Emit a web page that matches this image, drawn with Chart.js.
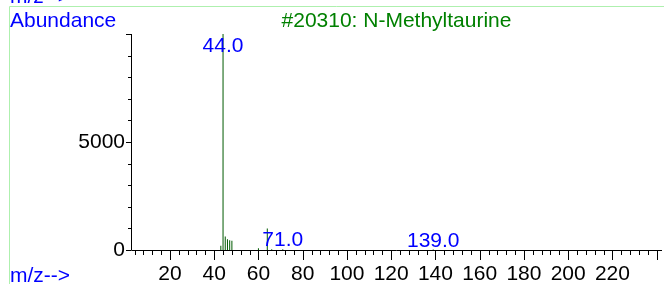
<!DOCTYPE html>
<html>
<head>
<meta charset="utf-8">
<script src="https://cdn.jsdelivr.net/npm/chart.js@4.4.1/dist/chart.umd.min.js"></script>
<style>
    body { margin: 0; background: #fff; }
    #wrap { width: 664px; height: 284px; }
</style>
</head>
<body>
<div id="wrap"><canvas id="spectrum" width="664" height="284"></canvas></div>
<script>
// m/z values and abundances
const mzValues = [43, 44, 45, 46, 47, 48, 60, 64, 66, 71, 139];
const abundances = [200, 10000, 630, 500, 450, 430, 80, 1000, 40, 30, 20];

// peaks that carry a text label
const labelledPeaks = [44, 71, 139];

const xLabelTicks = [20, 40, 60, 80, 100, 120, 140, 160, 180, 200, 220];
const yLabelTicks = [0, 5000];

const titleText = '#20310: N-Methyltaurine';
const yTitle = 'Abundance';
const xTitle = 'm/z-->';

const FONT = '"Liberation Sans", Arial, sans-serif';

const decorations = {
    id: 'decorations',
    afterDraw(chart) {
        const ctx = chart.ctx;
        const area = chart.chartArea;
        const xs = chart.scales.x;
        const ys = chart.scales.y;

        ctx.save();
        // light green frame
        ctx.strokeStyle = '#aef0ae';
        ctx.lineWidth = 1;
        ctx.beginPath();
        ctx.moveTo(9.5, 284);
        ctx.lineTo(9.5, 6.5);
        ctx.lineTo(664, 6.5);
        ctx.stroke();

        // axes
        ctx.strokeStyle = '#000';
        ctx.beginPath();
        ctx.moveTo(Math.round(area.left) + 0.5, area.top);
        ctx.lineTo(Math.round(area.left) + 0.5, Math.round(area.bottom) + 0.5);
        ctx.lineTo(area.right, Math.round(area.bottom) + 0.5);
        ctx.stroke();

        // x ticks, minor every 4, major every 20
        ctx.beginPath();
        for (let v = 4; v <= 240; v += 4) {
            const px = Math.round(xs.getPixelForValue(v)) + 0.5;
            const len = v % 20 === 0 ? 10 : 5;
            ctx.moveTo(px, area.bottom);
            ctx.lineTo(px, area.bottom + len);
        }
        // y ticks, minor every 1000
        for (let v = 0; v <= 10000; v += 1000) {
            const py = Math.round(ys.getPixelForValue(v)) + 0.5;
            const len = v % 5000 === 0 ? 5 : 3;
            ctx.moveTo(area.left, py);
            ctx.lineTo(area.left - len, py);
        }
        ctx.stroke();

        // texts
        ctx.font = '21px ' + FONT;
        ctx.textBaseline = 'alphabetic';
        ctx.fillStyle = '#0000ff';
        ctx.textAlign = 'left';
        ctx.fillText(xTitle, 10, 3);
        ctx.fillText(yTitle, 10, 27);
        ctx.fillText(xTitle, 10, 282);

        ctx.fillStyle = '#008000';
        ctx.textAlign = 'center';
        ctx.fillText(titleText, (area.left + area.right) / 2, 27);

        // peak labels
        ctx.fillStyle = '#0000ff';
        labelledPeaks.forEach(mz => {
            const i = mzValues.indexOf(mz);
            const px = xs.getPixelForValue(mz);
            let py = ys.getPixelForValue(abundances[i]) - 3;
            py = Math.max(py, area.top + 18);
            ctx.fillText(mz.toFixed(1), px, py);
        });
        ctx.restore();
    }
};

new Chart(document.getElementById('spectrum'), {
    type: 'bar',
    data: {
        datasets: [{
            data: mzValues.map((m, i) => ({ x: m, y: abundances[i] })),
            backgroundColor: '#005a00',
            borderWidth: 0,
            barThickness: 1,
            inflateAmount: 0
        }]
    },
    options: {
        responsive: false,
        animation: false,
        layout: { padding: { top: 34, right: 2, left: 0, bottom: 0 } },
        plugins: {
            legend: { display: false },
            tooltip: { enabled: false }
        },
        scales: {
            x: {
                type: 'linear',
                offset: false,
                min: 2.4,
                max: 242.4,
                grid: { display: false, drawTicks: false, offset: false },
                border: { display: false },
                afterBuildTicks: scale => {
                    scale.ticks = xLabelTicks.map(v => ({ value: v }));
                },
                afterFit: scale => { scale.height = 34; },
                ticks: {
                    autoSkip: false,
                    maxRotation: 0,
                    padding: 12,
                    color: '#000',
                    font: { family: FONT, size: 21 },
                    callback: v => String(v)
                }
            },
            y: {
                min: 0,
                max: 10000,
                grid: { display: false, drawTicks: false },
                border: { display: false },
                afterBuildTicks: scale => {
                    scale.ticks = yLabelTicks.map(v => ({ value: v }));
                },
                afterFit: scale => { scale.width = 131; },
                ticks: {
                    padding: 6,
                    color: '#000',
                    font: { family: FONT, size: 21 },
                    callback: v => String(v)
                }
            }
        }
    },
    plugins: [decorations]
});
</script>
</body>
</html>
